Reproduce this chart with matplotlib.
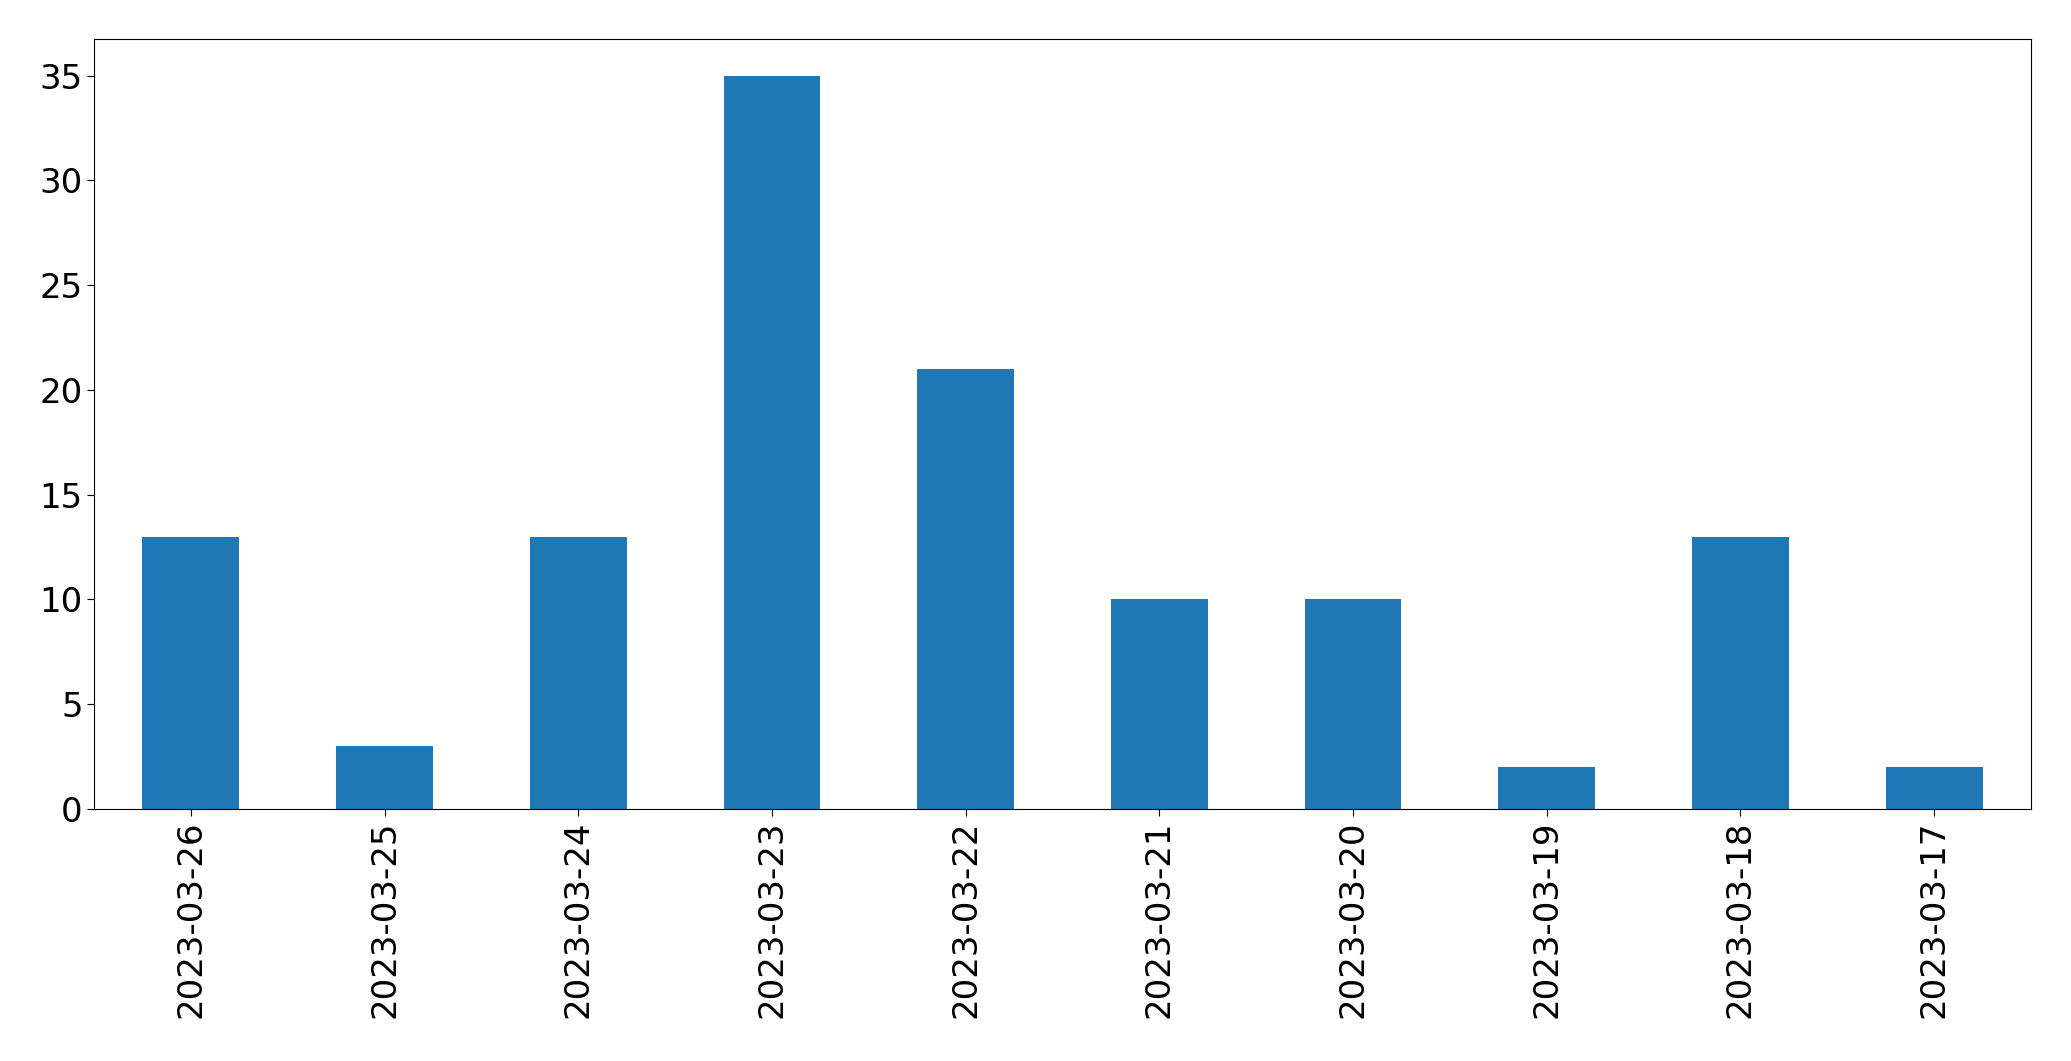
import matplotlib
matplotlib.use("Agg")
import matplotlib.pyplot as plt
import pandas as pd

dates = ["2023-03-26", "2023-03-25", "2023-03-24", "2023-03-23", "2023-03-22",
         "2023-03-21", "2023-03-20", "2023-03-19", "2023-03-18", "2023-03-17"]
counts = [13, 3, 13, 35, 21, 10, 10, 2, 13, 2]

s = pd.Series(counts, index=dates)

fig = plt.figure(figsize=(20.71, 10.61), dpi=100)
ax = fig.add_axes([94 / 2071, 1 - 809 / 1061, (2031 - 94) / 2071, (809 - 39) / 1061])
s.plot(kind="bar", ax=ax, color="#1f77b4", width=0.5)
ax.tick_params(axis="both", labelsize=24.5, length=4.7)
ax.tick_params(axis="x", rotation=90)

fig.savefig("out.png", dpi=100)
